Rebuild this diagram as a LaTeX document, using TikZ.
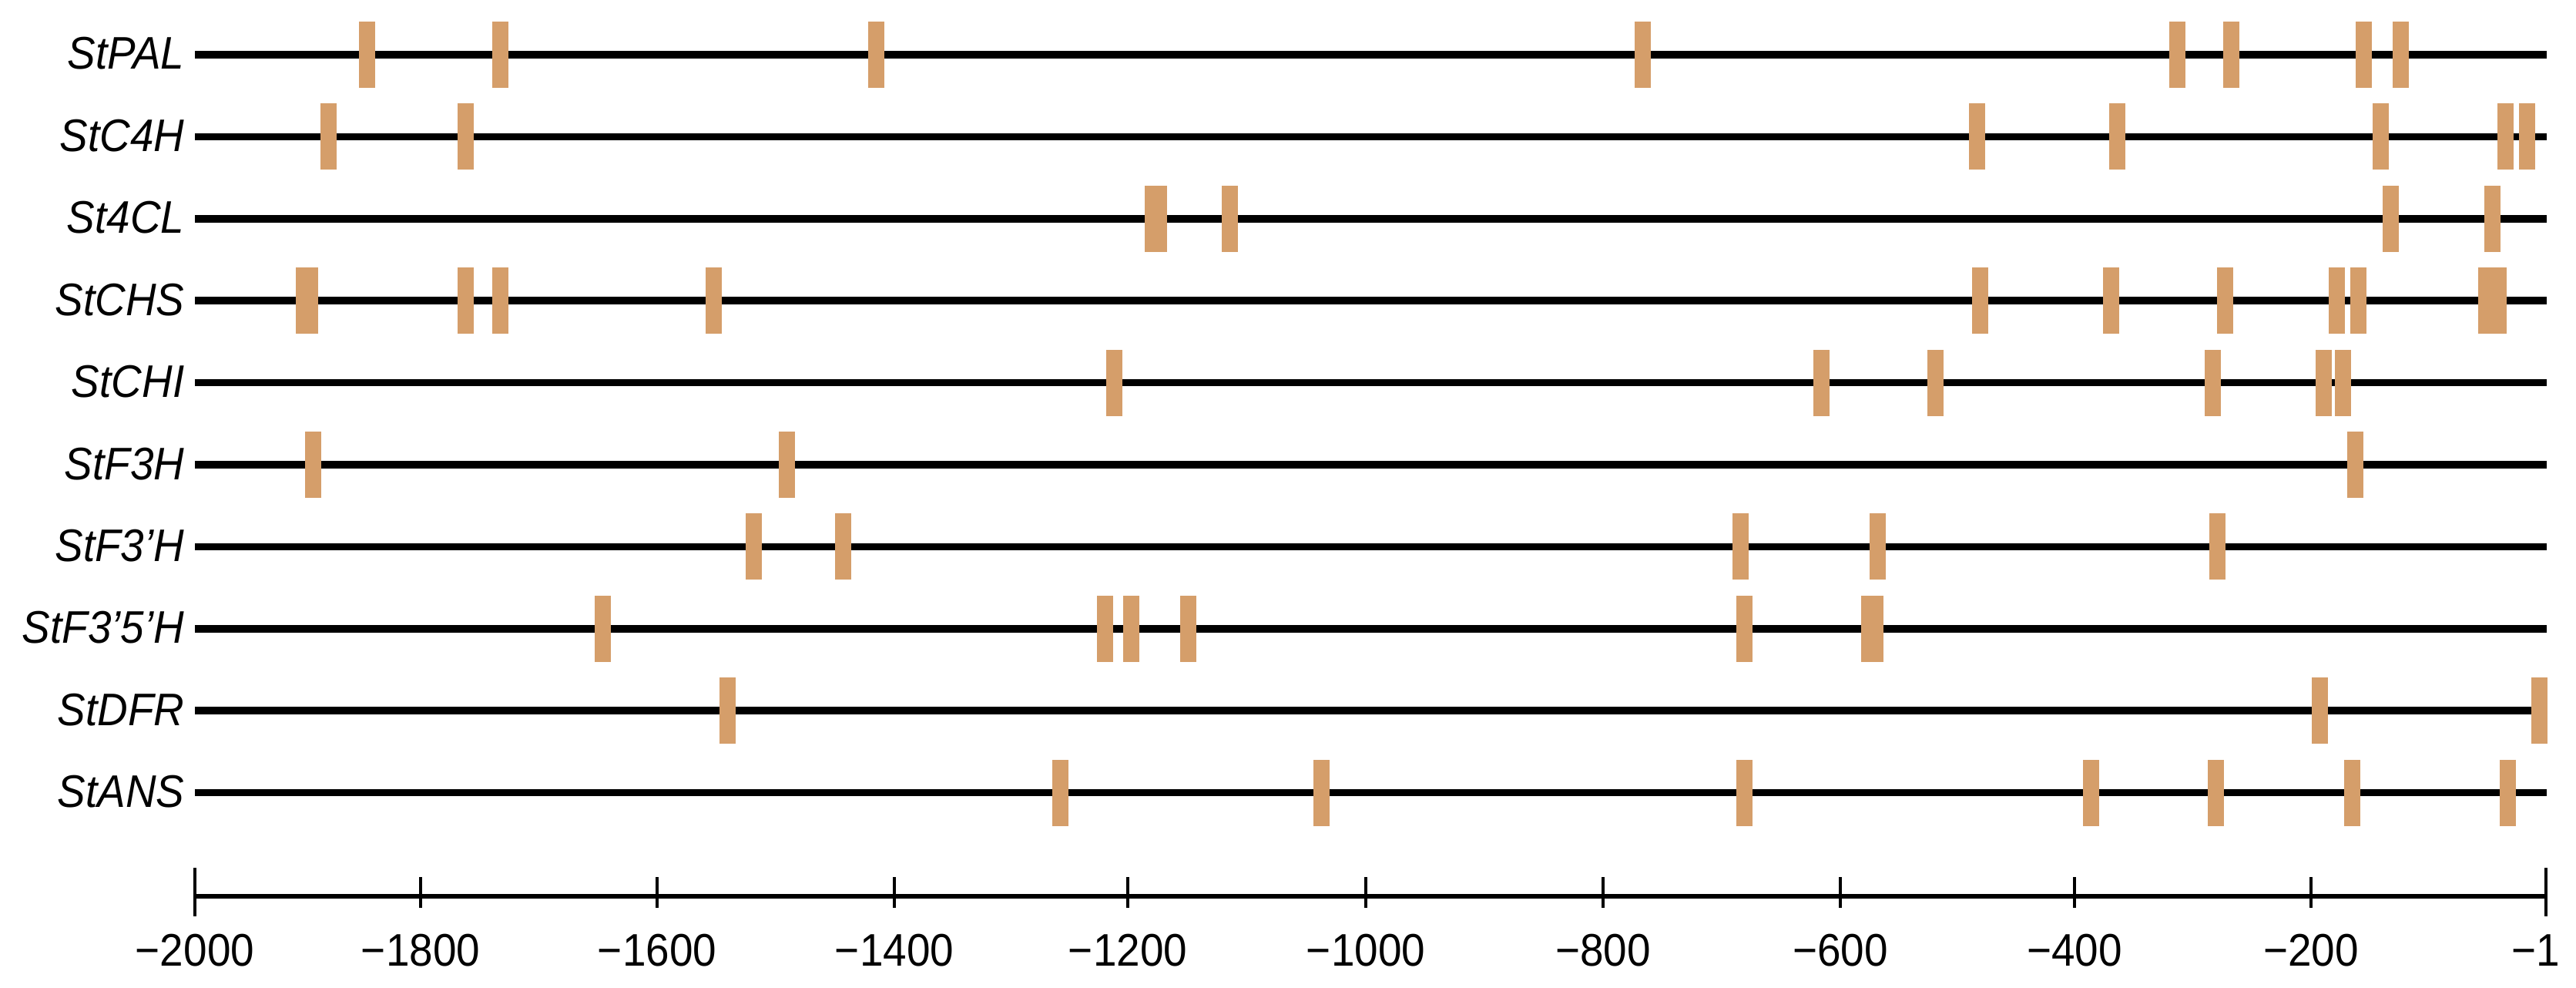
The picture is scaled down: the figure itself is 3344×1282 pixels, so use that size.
\documentclass[tikz,border=0pt]{standalone}
\usepackage{fontspec}
\setmainfont{Liberation Sans}
\usetikzlibrary{positioning}
\definecolor{exonbrown}{RGB}{213,158,106}
\newcommand\tallText[1]{\scalebox{1}[1.08]{#1}}
\tikzset{
  geneline/.style={line width=2.7pt},
  exon/.style={fill=exonbrown},
  genename/.style={anchor=base east,inner sep=0pt,
    font=\fontsize{15.6}{18}\selectfont\itshape},
  scaleline/.style={line width=1.95pt},
  scaletick/.style={line width=0.9pt},
  scalenum/.style={anchor=base,inner sep=0pt,
    font=\fontsize{15.6}{18}\selectfont}
}

\begin{document}
\begin{tikzpicture}[x=0.01cm,y=-0.01cm]
  \useasboundingbox (0,0) rectangle (3344,1282);

  % one row per gene: name/label/row/exons (centre/width)
  \foreach \gname/\glabel/\row/\exons in {
      pal/StPAL/0/{476/21,649/21,1137/21,2132/21,2826/21,2896/21,3068/21,3116/21},
      cfh/StC4H/1/{426/21,604/21,2566/21,2748/21,3090/21,3252/21,3280/21},
      fcl/St4CL/2/{1500/29,1596/21,3103/21,3235/21},
      chs/StCHS/3/{398/29,604/21,649/21,926/21,2570/21,2740/21,2888/21,3033/21,3061/21,3235/37},
      chi/StCHI/4/{1446/21,2364/21,2512/21,2872/21,3016/21,3041/21},
      fh/StF3H/5/{406/21,1021/21,3057/21},
      fph/StF3’H/6/{978/21,1094/21,2259/21,2437/21,2878/21},
      fpfh/StF3’5’H/7/{782/21,1434/21,1468/21,1542/21,2264/21,2430/29},
      dfr/StDFR/8/{944/21,3011/21,3296/21},
      ans/StANS/9/{1376/21,1715/21,2264/21,2714/21,2876/21,3053/21,3255/21}}{
    \pgfmathsetmacro\gy{71+106.4*\row}
    \node[genename] (\gname) at (240,\gy+19) {\tallText{\glabel}};
    \draw[geneline] (253,\gy) -- (3306,\gy);
    \foreach \ex/\ew in \exons
      \fill[exon] (\ex-\ew/2,\gy-43) rectangle (\ex+\ew/2,\gy+43);
  }

  % position scale
  \draw[scaleline] (253,1163) -- (3305,1163);
  \draw[scaletick] (253,1126) -- (253,1189) (3305,1126) -- (3305,1189);
  \foreach \tx in {546,853,1161,1464,1773,2081,2389,2693,3000}
    \draw[scaletick] (\tx,1138) -- (\tx,1178);
  \foreach \lx/\tlab [count=\ti] in {253/−2000,546/−1800,853/−1600,1161/−1400,
      1464/−1200,1773/−1000,2081/−800,2389/−600,2693/−400,3000/−200,3292/−1}
    \node[scalenum] (num\ti) at (\lx,1253) {\tallText{\tlab}};
\end{tikzpicture}
\end{document}
